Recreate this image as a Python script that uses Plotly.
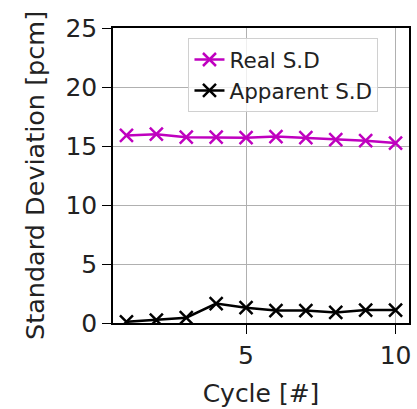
import plotly.graph_objects as go

cycles = [1, 2, 3, 4, 5, 6, 7, 8, 9, 10]
real_sd = [15.9, 16.0, 15.75, 15.75, 15.7, 15.8, 15.7, 15.55, 15.45, 15.25]
apparent_sd = [0.1, 0.25, 0.45, 1.65, 1.3, 1.05, 1.05, 0.9, 1.1, 1.1]

FONT = "DejaVu Sans"
fig = go.Figure()
fig.add_trace(go.Scatter(x=cycles, y=real_sd, mode="lines+markers", name="Real S.D",
                         line=dict(color="#bf00bf", width=2.5),
                         marker=dict(symbol="x-thin", size=13, line=dict(color="#bf00bf", width=2.5))))
fig.add_trace(go.Scatter(x=cycles, y=apparent_sd, mode="lines+markers", name="Apparent S.D",
                         line=dict(color="black", width=2.5),
                         marker=dict(symbol="x-thin", size=13, line=dict(color="black", width=2.5))))

axis_common = dict(showline=True, linecolor="black", linewidth=1.5, mirror=True,
                   showgrid=True, gridcolor="#b0b0b0", gridwidth=1,
                   ticks="outside", ticklen=9, tickwidth=1.3, tickcolor="black",
                   tickfont=dict(family=FONT, size=25, color="#222"), zeroline=False)

fig.update_xaxes(range=[0.55, 10.45], tick0=0, dtick=5,
                 title=dict(text="Cycle [#]", font=dict(family=FONT, size=25, color="#222"), standoff=16),
                 **axis_common)
fig.update_yaxes(range=[0, 25], tick0=0, dtick=5,
                 title=dict(text="Standard Deviation [pcm]", font=dict(family=FONT, size=25.5, color="#222"), standoff=14),
                 **axis_common)

fig.update_layout(width=417, height=409, margin=dict(l=113, r=6, t=28, b=86),
                  paper_bgcolor="white", plot_bgcolor="white",
                  legend=dict(x=0.255, y=0.966, xanchor="left", yanchor="top",
                              bgcolor="rgba(255,255,255,0.8)", bordercolor="#d0d0d0", borderwidth=1,
                              font=dict(family=FONT, size=21.5, color="#222")))

fig.write_html("out.html")
